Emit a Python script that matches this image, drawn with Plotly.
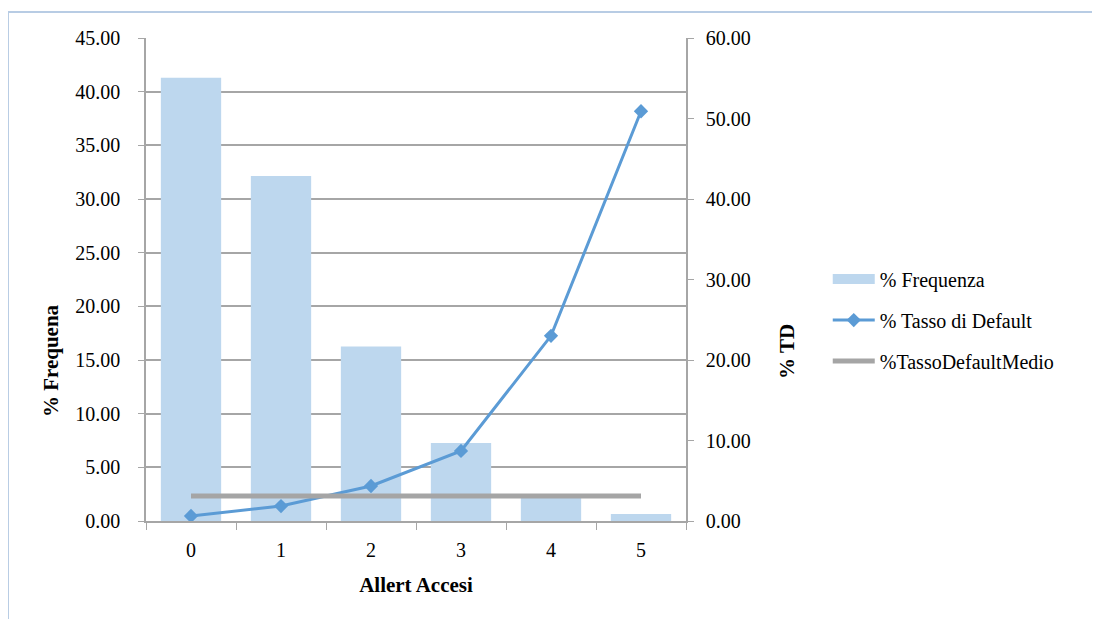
import plotly.graph_objects as go

categories = ["0", "1", "2", "3", "4", "5"]
frequenza = [41.3, 32.15, 16.25, 7.27, 2.24, 0.65]
tasso_default = [0.62, 1.86, 4.35, 8.7, 23.0, 50.9]
tasso_medio = [3.1, 3.1, 3.1, 3.1, 3.1, 3.1]
left_ticks = [0, 5, 10, 15, 20, 25, 30, 35, 40, 45]
right_ticks = [0, 10, 20, 30, 40, 50, 60]

FONT = "Liberation Serif"
BAR_C = "#BDD7EE"
LINE_C = "#5B9BD5"
AVG_C = "#A5A5A5"
AX_C = "#A6A6A6"

fig = go.Figure()
fig.add_trace(go.Bar(x=categories, y=frequenza, name="% Frequenza",
                     marker=dict(color=BAR_C, line=dict(width=0)),
                     showlegend=False))
fig.add_trace(go.Scatter(x=categories, y=tasso_default, name="% Tasso di Default",
                         yaxis="y2", mode="lines+markers",
                         line=dict(color=LINE_C, width=3),
                         marker=dict(symbol="diamond", size=11, color=LINE_C),
                         legendgroup="b", legendrank=2))
fig.add_trace(go.Scatter(x=categories, y=tasso_medio, name="%TassoDefaultMedio",
                         yaxis="y2", mode="lines",
                         line=dict(color=AVG_C, width=5),
                         legendgroup="c", legendrank=3))
# legend entry for the bars (wide swatch as in the original)
fig.add_trace(go.Scatter(x=[None], y=[None], name="% Frequenza", mode="lines",
                         line=dict(color=BAR_C, width=12),
                         legendgroup="a", legendrank=1))

fig.update_layout(
    width=1100, height=619,
    margin=dict(l=138, r=422, t=30, b=106),
    paper_bgcolor="white", plot_bgcolor="white",
    font=dict(family=FONT, size=20, color="black"),
    bargap=0.33,
    showlegend=True,
    legend=dict(x=1.2625, y=0.416, xanchor="left", yanchor="middle",
                font=dict(family=FONT, size=20), tracegroupgap=12,
                traceorder="grouped", itemwidth=42),
    xaxis=dict(type="category", showgrid=False, showline=True, linecolor=AX_C,
               linewidth=1.5, ticks="outside", tickson="boundaries", ticklen=7,
               tickcolor=AX_C, ticklabelstandoff=10,
               title=dict(text="<b>Allert Accesi</b>", standoff=18,
                          font=dict(family=FONT, size=21))),
    yaxis=dict(range=[0, 45], tickvals=left_ticks,
               ticktext=[f"{v:.2f}" for v in left_ticks],
               showgrid=True, gridcolor=AX_C, gridwidth=1.5,
               showline=True, linecolor=AX_C, linewidth=1.5,
               ticks="outside", ticklen=6, tickcolor=AX_C,
               ticklabelstandoff=14, zeroline=False),
    yaxis2=dict(range=[0, 60], tickvals=right_ticks,
                ticktext=[f"{v:.2f}" for v in right_ticks],
                overlaying="y", side="right", showgrid=False,
                showline=True, linecolor=AX_C, linewidth=1.5,
                ticks="outside", ticklen=6, tickcolor=AX_C,
                ticklabelstandoff=8, zeroline=False),
    annotations=[
        dict(text="<b>% Frequena</b>", xref="paper", yref="paper",
             x=-0.176, y=0.333, textangle=-90, showarrow=False,
             xanchor="center", yanchor="middle",
             font=dict(family=FONT, size=21)),
        dict(text="<b>% TD</b>", xref="paper", yref="paper",
             x=1.187, y=0.352, textangle=-90, showarrow=False,
             xanchor="center", yanchor="middle",
             font=dict(family=FONT, size=21)),
    ],
    shapes=[
        dict(type="line", xref="paper", yref="paper",
             x0=-0.2556, x1=1.8, y0=1.0538, y1=1.0538,
             line=dict(color="#B8CCE4", width=2)),
        dict(type="line", xref="paper", yref="paper",
             x0=-0.2556, x1=-0.2556, y0=1.0538, y1=-0.3,
             line=dict(color="#B8CCE4", width=2)),
    ],
)

fig.write_html("out.html")
